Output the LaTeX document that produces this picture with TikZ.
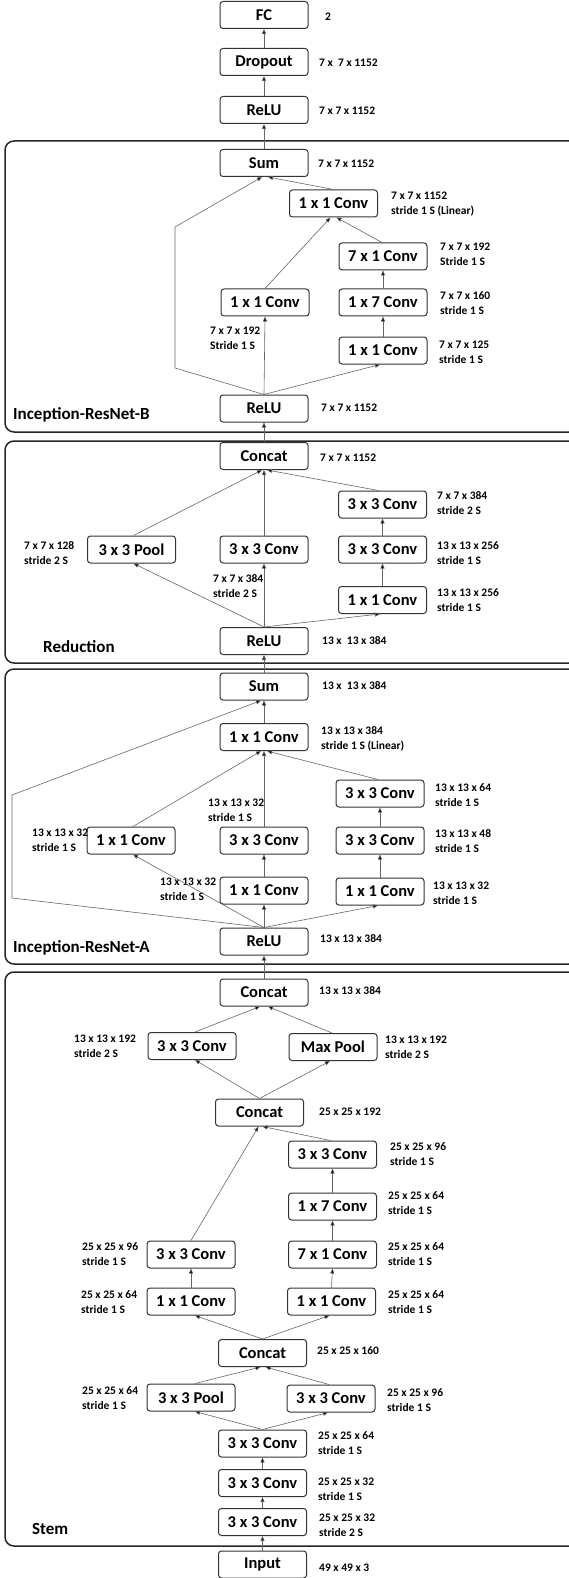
\documentclass[tikz,border=0pt]{standalone}
\usepackage{fontspec}
\setmainfont{Carlito}
\usetikzlibrary{arrows.meta,calc}
\tikzset{
  box/.style={draw=black!80, line width=1pt, rounded corners=3pt, minimum width=88pt, minimum height=27pt, inner sep=0pt, fill=white, font=\fontsize{16.5}{18}\selectfont\bfseries},
  lbl/.style={anchor=west, align=left, inner sep=0pt, font=\fontsize{11.5}{15}\selectfont\bfseries},
  ttl/.style={anchor=west, inner sep=0pt, font=\fontsize{17}{19}\selectfont\bfseries},
  blk/.style={draw=black!85, line width=1.5pt, rounded corners=9pt},
  arr/.style={draw=black!60, line width=0.6pt, -{Triangle[length=5pt,width=4pt,fill=black]}}
}
\begin{document}
\begin{tikzpicture}[x=1pt,y=-1pt]
\useasboundingbox (0,0) rectangle (569,1578);
\clip (0,0) rectangle (569,1578);
% blocks
\draw[blk] (5,141) rectangle (578,432);
\draw[blk] (5,441) rectangle (578,663);
\draw[blk] (5,669) rectangle (578,964);
\draw[blk] (5,972) rectangle (578,1546);
\node[ttl] (tB) at (13,415) {Inception-ResNet-B};
\node[ttl] (tR) at (43,647) {Reduction};
\node[ttl] (tA) at (13,948) {Inception-ResNet-A};
\node[ttl] (tS) at (32,1529) {Stem};
% top
\node[box] (fc) at (264,15) {FC};
\node[box] (drop) at (264,62) {Dropout};
\node[box] (relu3) at (264,110) {ReLU};
\node[lbl] (lfc) at (325,17) {2};
\node[lbl] (ldrop) at (319,63) {7 x~ 7 x 1152};
\node[lbl] (lrelu3) at (319,111) {7 x 7 x 1152};
% block B
\node[box] (sumB) at (264,163) {Sum};
\node[box] (linB) at (333.5,203.5) {1 x 1 Conv};
\node[box] (c71) at (383,256.5) {7 x 1 Conv};
\node[box] (c17) at (383,302.5) {1 x 7 Conv};
\node[box] (c11Br) at (383,350.5) {1 x 1 Conv};
\node[box] (c11Bl) at (265,302.5) {1 x 1 Conv};
\node[box] (reluB) at (264,408.5) {ReLU};
\node[lbl] (lsumB) at (318,164) {7 x 7 x 1152};
\node[lbl] (llinB) at (391,204.5) {7 x 7 x 1152\\stride 1 S (Linear)};
\node[lbl] (lc71) at (440,254.5) {7 x 7 x 192\\Stride 1 S};
\node[lbl] (lc17) at (440,303.5) {7 x 7 x 160\\stride 1 S};
\node[lbl] (lc11Br) at (439,352.5) {7 x 7 x 125\\stride 1 S};
\node[lbl] (lc11Bl) at (210,338.5) {7 x 7 x 192\\Stride 1 S};
\node[lbl] (lreluB) at (321,408) {7 x 7 x 1152};
% reduction
\node[box] (concatR) at (264,456) {Concat};
\node[box] (r33t) at (382.5,504.5) {3 x 3 Conv};
\node[box] (poolR) at (131.5,549.5) {3 x 3 Pool};
\node[box] (r33m) at (264,549.5) {3 x 3 Conv};
\node[box] (r33r) at (382.5,549.5) {3 x 3 Conv};
\node[box] (r11) at (382.5,600) {1 x 1 Conv};
\node[box] (reluR) at (264,641) {ReLU};
\node[lbl] (lconcatR) at (320,458) {7 x 7 x 1152};
\node[lbl] (lr33t) at (437,503.5) {7 x 7 x 384\\stride 2 S};
\node[lbl] (lpoolR) at (24,553) {7 x 7 x 128\\stride 2 S};
\node[lbl] (lr33r) at (437,553) {13 x 13 x 256\\stride 1 S};
\node[lbl] (lr11) at (437,600.5) {13 x 13 x 256\\stride 1 S};
\node[lbl] (lr33m) at (213,586.5) {7 x 7 x 384\\stride 2 S};
\node[lbl] (lreluR) at (322,641) {13 x~ 13 x 384};
% block A
\node[box] (sumA) at (264,686.5) {Sum};
\node[box] (linA) at (264,737) {1 x 1 Conv};
\node[box] (a33t) at (380,793.5) {3 x 3 Conv};
\node[box] (a11l) at (131,840.5) {1 x 1 Conv};
\node[box] (a33m) at (264,840.5) {3 x 3 Conv};
\node[box] (a33r) at (380,840.5) {3 x 3 Conv};
\node[box] (a11m) at (264,890.5) {1 x 1 Conv};
\node[box] (a11r) at (380,891.5) {1 x 1 Conv};
\node[box] (reluA) at (264,941.5) {ReLU};
\node[lbl] (lsumA) at (322,686) {13 x~ 13 x 384};
\node[lbl] (llinA) at (321,738.5) {13 x 13 x 384\\stride 1 S (Linear)};
\node[lbl] (la33t) at (435,795.5) {13 x 13 x 64\\stride 1 S};
\node[lbl] (la11l) at (32,840.5) {13 x 13 x 32\\stride 1 S};
\node[lbl] (la33m) at (208,810.5) {13 x 13 x 32\\stride 1 S};
\node[lbl] (la33r) at (435,841.5) {13 x 13 x 48\\stride 1 S};
\node[lbl] (la11m) at (160,889.5) {13 x 13 x 32\\stride 1 S};
\node[lbl] (la11r) at (433,893.5) {13 x 13 x 32\\stride 1 S};
\node[lbl] (lreluA) at (320,939) {13 x 13 x 384};
% stem
\node[box] (concatS) at (264,992.5) {Concat};
\node[box] (s33l) at (192,1046) {3 x 3 Conv};
\node[box] (smp) at (333,1047) {Max Pool};
\node[box] (concatS2) at (259.5,1112.5) {Concat};
\node[box] (s33r) at (332.5,1154.5) {3 x 3 Conv};
\node[box] (s17) at (332.5,1206.5) {1 x 7 Conv};
\node[box] (s33l2) at (191,1254.5) {3 x 3 Conv};
\node[box] (s71) at (332.5,1254.5) {7 x 1 Conv};
\node[box] (s11l) at (191,1301.5) {1 x 1 Conv};
\node[box] (s11r) at (331.5,1301.5) {1 x 1 Conv};
\node[box] (concatS3) at (262.5,1353) {Concat};
\node[box] (spool) at (191,1397.5) {3 x 3 Pool};
\node[box] (s33r2) at (331,1398.5) {3 x 3 Conv};
\node[box] (sc3) at (262.5,1443.5) {3 x 3 Conv};
\node[box] (sc2) at (262.5,1483) {3 x 3 Conv};
\node[box] (sc1) at (262.5,1522) {3 x 3 Conv};
\node[box] (input) at (262.5,1564.5) {Input};
\node[lbl] (lconcatS) at (319,991) {13 x 13 x 384};
\node[lbl] (ls33l) at (74,1046.5) {13 x 13 x 192\\stride 2 S};
\node[lbl] (lsmp) at (385,1047.5) {13 x 13 x 192\\stride 2 S};
\node[lbl] (lconcatS2) at (319,1112) {25 x 25 x 192};
\node[lbl] (ls33r) at (390,1154.5) {25 x 25 x 96\\stride 1 S};
\node[lbl] (ls17) at (388,1203.5) {25 x 25 x 64\\stride 1 S};
\node[lbl] (ls33l2) at (82,1254.5) {25 x 25 x 96\\stride 1 S};
\node[lbl] (ls71) at (388,1254.5) {25 x 25 x 64\\stride 1 S};
\node[lbl] (ls11l) at (81,1302.5) {25 x 25 x 64\\stride 1 S};
\node[lbl] (ls11r) at (388,1302.5) {25 x 25 x 64\\stride 1 S};
\node[lbl] (lconcatS3) at (317,1351) {25 x 25 x 160};
\node[lbl] (lspool) at (82,1398.5) {25 x 25 x 64\\stride 1 S};
\node[lbl] (ls33r2) at (387,1400.5) {25 x 25 x 96\\stride 1 S};
\node[lbl] (lsc3) at (318,1443.5) {25 x 25 x 64\\stride 1 S};
\node[lbl] (lsc2) at (318,1489.5) {25 x 25 x 32\\stride 1 S};
\node[lbl] (lsc1) at (319,1525.5) {25 x 25 x 32\\stride 2 S};
\node[lbl] (linput) at (319,1568) {49 x 49 x 3};
% skip coordinates
\coordinate (bB1) at (175,368);
\coordinate (bB2) at (175,227);
\coordinate (bA1) at (12,898);
\coordinate (bA2) at (12,795);
% edges top
\draw[arr] (drop.north) -- (fc.south);
\draw[arr] (relu3.north) -- (drop.south);
\draw[arr] (sumB.north) -- (relu3.south);
% edges B
\draw[arr] (reluB.north) -- (bB1) -- (bB2) -- ($(sumB.south)+(-2,0)$);
\draw[arr] (reluB.north) -- (c11Bl.south);
\draw[arr] (reluB.north) -- ($(c11Br.south)+(-3,0)$);
\draw[arr] (c11Br.north) -- (c17.south);
\draw[arr] (c17.north) -- (c71.south);
\draw[arr] (c11Bl.north) -- ($(linB.south)+(-3,0)$);
\draw[arr] ($(c71.north)+(-1,0)$) -- ($(linB.south)+(3,0)$);
\draw[arr] (linB.north) -- ($(sumB.south)+(4,0)$);
\draw[arr] (concatR.north) -- (reluB.south);
% edges reduction
\draw[arr] (reluR.north) -- ($(poolR.south)+(2,0)$);
\draw[arr] (reluR.north) -- (r33m.south);
\draw[arr] (reluR.north) -- ($(r11.south)+(-2.5,0)$);
\draw[arr] (r11.north) -- (r33r.south);
\draw[arr] (r33r.north) -- (r33t.south);
\draw[arr] ($(poolR.north)+(2,0)$) -- ($(concatR.south)+(-2,0)$);
\draw[arr] (r33m.north) -- (concatR.south);
\draw[arr] ($(r33t.north)+(-4,0)$) -- ($(concatR.south)+(3,0)$);
\draw[arr] (sumA.north) -- (reluR.south);
% edges A
\draw[arr] (reluA.north) -- (bA1) -- (bA2) -- ($(sumA.south)+(-3,0)$);
\draw[arr] (linA.north) -- (sumA.south);
\draw[arr] (reluA.north) -- ($(a11l.south)+(2,0)$);
\draw[arr] (reluA.north) -- (a11m.south);
\draw[arr] (reluA.north) -- ($(a11r.south)+(-2,0)$);
\draw[arr] (a11m.north) -- (a33m.south);
\draw[arr] (a11r.north) -- (a33r.south);
\draw[arr] (a33r.north) -- (a33t.south);
\draw[arr] ($(a11l.north)+(2,0)$) -- ($(linA.south)+(-3,0)$);
\draw[arr] (a33m.north) -- (linA.south);
\draw[arr] ($(a33t.north)+(-2,0)$) -- ($(linA.south)+(3,0)$);
\draw[arr] (concatS.north) -- (reluA.south);
% edges stem
\draw[arr] (input.north) -- (sc1.south);
\draw[arr] (sc1.north) -- (sc2.south);
\draw[arr] (sc2.north) -- (sc3.south);
\draw[arr] (sc3.north) -- ($(spool.south)+(4,0)$);
\draw[arr] (sc3.north) -- ($(s33r2.south)+(-3,0)$);
\draw[arr] ($(spool.north)+(4,0)$) -- ($(concatS3.south)+(-2,0)$);
\draw[arr] ($(s33r2.north)+(-2,0)$) -- ($(concatS3.south)+(3,0)$);
\draw[arr] (concatS3.north) -- ($(s11l.south)+(4,0)$);
\draw[arr] (concatS3.north) -- ($(s11r.south)+(-2,0)$);
\draw[arr] (s11l.north) -- (s33l2.south);
\draw[arr] (s11r.north) -- (s71.south);
\draw[arr] (s71.north) -- (s17.south);
\draw[arr] (s17.north) -- (s33r.south);
\draw[arr] (s33l2.north) -- ($(concatS2.south)+(-1,0)$);
\draw[arr] ($(s33r.north)+(-2,0)$) -- ($(concatS2.south)+(3,0)$);
\draw[arr] (concatS2.north) -- ($(s33l.south)+(3,0)$);
\draw[arr] (concatS2.north) -- ($(smp.south)+(-3,0)$);
\draw[arr] ($(s33l.north)+(3,0)$) -- ($(concatS.south)+(-4,0)$);
\draw[arr] ($(smp.north)+(-1,0)$) -- ($(concatS.south)+(4,0)$);
\end{tikzpicture}
\end{document}
